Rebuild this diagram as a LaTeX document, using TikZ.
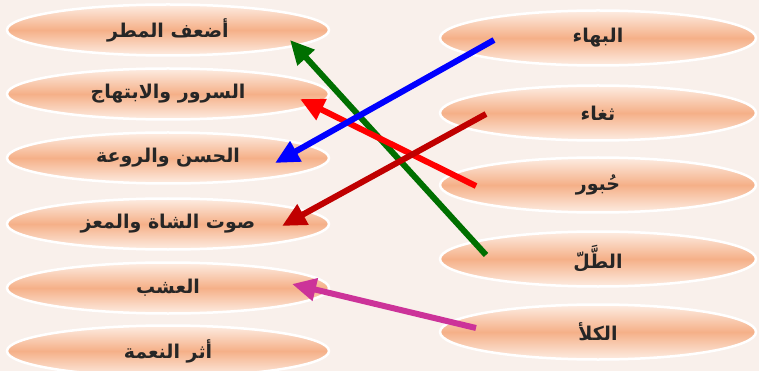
\documentclass[tikz,border=0pt]{standalone}
\usepackage{fontspec}
\usetikzlibrary{arrows.meta,shapes.geometric}
\newfontfamily\arabicfont[Script=Arabic]{DejaVu Sans}
\TeXXeTstate=1
\definecolor{bgc}{HTML}{F9F0EB}
\definecolor{peachA}{HTML}{FDEDE3}
\definecolor{peachB}{HTML}{F5B088}
\definecolor{arBlue}{HTML}{0000FF}
\definecolor{arDark}{HTML}{C00000}
\definecolor{arRed}{HTML}{FF0000}
\definecolor{arGreen}{HTML}{006F00}
\definecolor{arMag}{HTML}{CC3399}
\tikzset{
  oval/.style={ellipse, draw=white, line width=2.5pt, top color=peachA, bottom color=peachA, middle color=peachB, inner sep=0pt, font=\arabicfont\bfseries\fontsize{19}{22}\selectfont, text=black!85},
  leftoval/.style={oval, minimum width=322pt, minimum height=51pt},
  rightoval/.style={oval, minimum width=316pt, minimum height=55pt},
  link/.style={line width=6pt, -{Triangle[length=24pt,width=22pt]}}
}
\begin{document}
\begin{tikzpicture}[x=1pt,y=-1pt]
\fill[bgc] (0,0) rectangle (759,371);
\useasboundingbox (0,0) rectangle (759,371);
% left column
\node[leftoval] (l1) at (168,30) {\beginR أضعف المطر\endR};
\node[leftoval] (l2) at (168,94) {\beginR السرور والابتهاج\endR};
\node[leftoval] (l3) at (168,158) {\beginR الحسن والروعة\endR};
\node[leftoval] (l4) at (168,224) {\beginR صوت الشاة والمعز\endR};
\node[leftoval] (l5) at (168,288) {\beginR العشب\endR};
\node[leftoval] (l6) at (168,351) {\beginR أثر النعمة\endR};
% right column
\node[rightoval] (r1) at (598,38) {\beginR البهاء\endR};
\node[rightoval] (r2) at (598,113) {\beginR ثغاء\endR};
\node[rightoval] (r3) at (598,185) {\beginR حُبور\endR};
\node[rightoval] (r4) at (598,259) {\beginR الطَّلّ\endR};
\node[rightoval] (r5) at (598,332) {\beginR الكلأ\endR};
% arrow endpoints
\coordinate (t1) at (494,40);  \coordinate (h1) at (275,163);
\coordinate (t2) at (486,114); \coordinate (h2) at (282,226);
\coordinate (t3) at (476,186); \coordinate (h3) at (300,99);
\coordinate (t4) at (486,255); \coordinate (h4) at (290,40);
\coordinate (t5) at (476,328); \coordinate (h5) at (292,284);
\draw[link, arGreen] (t4) -- (h4);
\draw[link, arRed] (t3) -- (h3);
\draw[link, arBlue] (t1) -- (h1);
\draw[link, arDark] (t2) -- (h2);
\draw[link, arMag] (t5) -- (h5);
\end{tikzpicture}
\end{document}
